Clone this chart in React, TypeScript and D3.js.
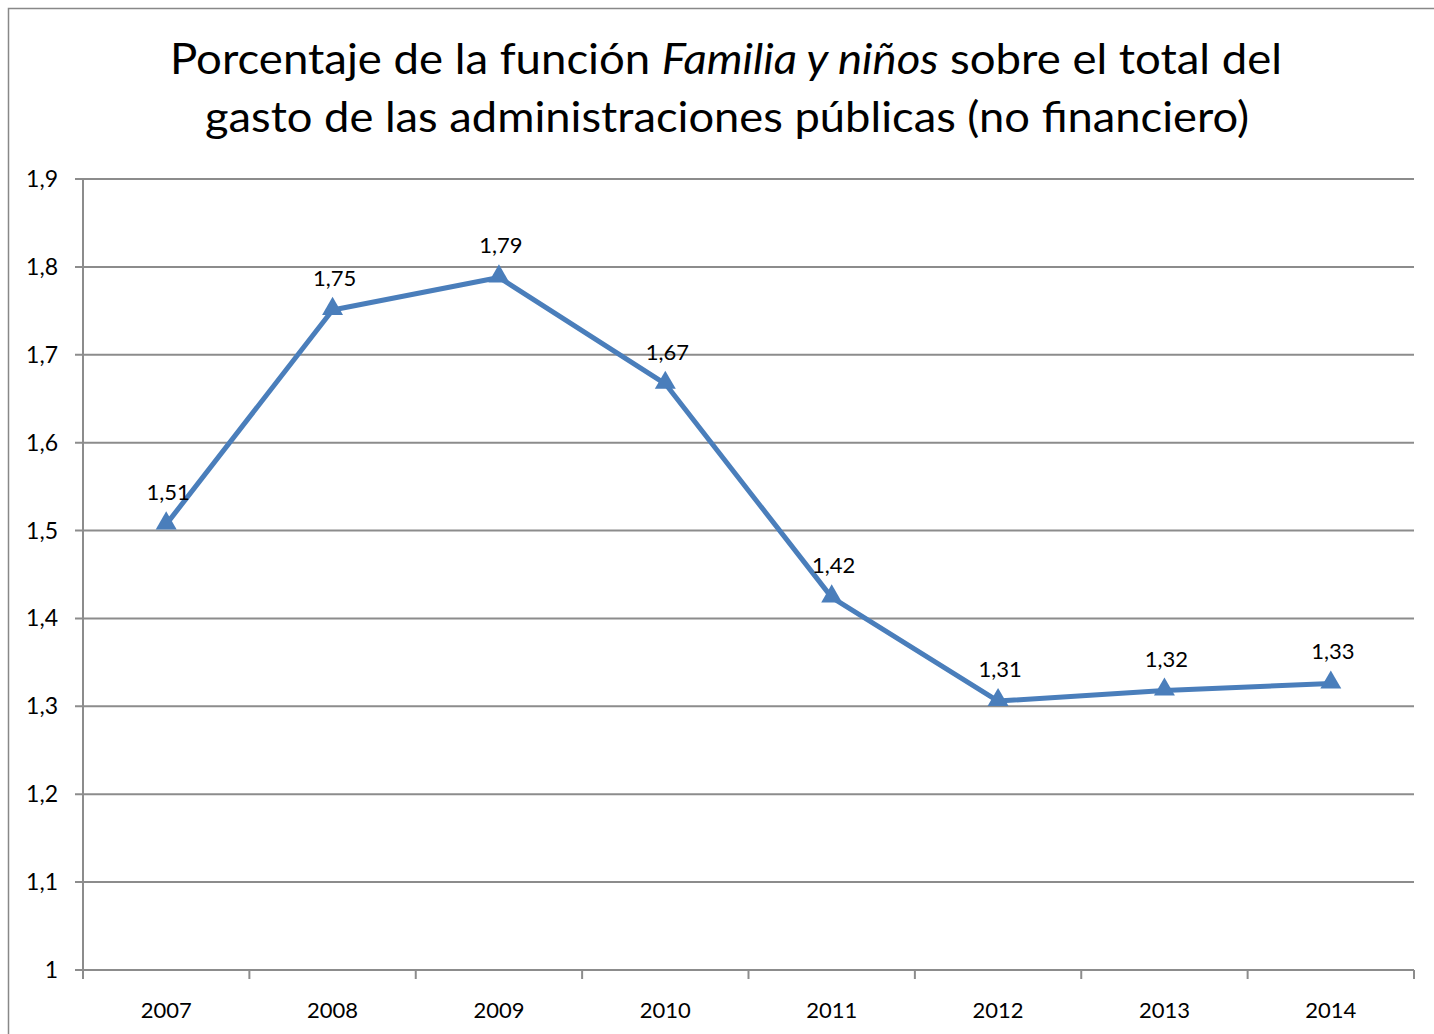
import React from "react";
import * as d3 from "d3";

const years = ["2007", "2008", "2009", "2010", "2011", "2012", "2013", "2014"];
const values = [1.507, 1.751, 1.788, 1.667, 1.424, 1.306, 1.318, 1.326];
const yTicks = [1, 1.1, 1.2, 1.3, 1.4, 1.5, 1.6, 1.7, 1.8, 1.9];

const FONT = "Lato, 'Open Sans', sans-serif";

export default function App() {
  const W = 1434, H = 1034;
  const left = 83, right = 1414, top = 179, bottom = 970;
  const x = d3.scaleBand<string>().domain(years).range([left, right]).padding(0);
  const y = d3.scaleLinear().domain([1, 1.9]).range([bottom, top]);
  const cx = (d: string) => (x(d) as number) + x.bandwidth() / 2;
  const line = d3.line<number>().x((_, i) => cx(years[i])).y((v) => y(v));
  const fmt = (v: number) => (Number.isInteger(v) ? String(v) : v.toFixed(1)).replace(".", ",");
  const fmt2 = (v: number) => v.toFixed(2).replace(".", ",");
  const tri = d3.symbol().type(d3.symbolTriangle).size(190)();
  const boundaries = [...years.map((d) => x(d) as number), right];

  return (
    <svg width={W} height={H} style={{ position: "absolute", left: 0, top: 0 }}>
      <rect x={0} y={0} width={W} height={H} fill="#fff" />
      <rect x={8.5} y={8.5} width={W + 20} height={H + 20} fill="none" stroke="#888" strokeWidth={1.5} />
      <text x={726} y={74} textAnchor="middle" fontFamily={FONT} fontSize={43} fill="#000"
        textLength={1112} lengthAdjust="spacingAndGlyphs">
        Porcentaje de la función <tspan fontStyle="italic">Familia y niños</tspan> sobre el total del
      </text>
      <text x={727} y={132} textAnchor="middle" fontFamily={FONT} fontSize={43} fill="#000"
        textLength={1044} lengthAdjust="spacingAndGlyphs">
        gasto de las administraciones públicas (no financiero)
      </text>
      {yTicks.map((t) => (
        <g key={t}>
          <line x1={left - 8} x2={right} y1={y(t)} y2={y(t)} stroke="#8c8c8c" strokeWidth={2} />
          <text x={58} y={y(t) + 8} textAnchor="end" fontFamily={FONT} fontSize={23} fill="#000">
            {fmt(t)}
          </text>
        </g>
      ))}
      <line x1={left} x2={left} y1={top} y2={bottom} stroke="#8c8c8c" strokeWidth={2} />
      {boundaries.map((b, i) => (
        <line key={i} x1={b} x2={b} y1={bottom} y2={bottom + 9} stroke="#8c8c8c" strokeWidth={2} />
      ))}
      {years.map((d) => (
        <text key={d} x={cx(d)} y={1018} textAnchor="middle" fontFamily={FONT} fontSize={22} fill="#000">
          {d}
        </text>
      ))}
      <path d={line(values) || ""} fill="none" stroke="#4a7ebb" strokeWidth={5} strokeLinejoin="round" />
      {values.map((v, i) => (
        <path key={i} d={tri || ""} transform={`translate(${cx(years[i])},${y(v) - 1})`} fill="#4a7ebb" />
      ))}
      {values.map((v, i) => (
        <text key={"l" + i} x={cx(years[i]) + 2} y={y(v) - 24} textAnchor="middle" fontFamily={FONT} fontSize={22} fill="#000">
          {fmt2(v)}
        </text>
      ))}
    </svg>
  );
}
